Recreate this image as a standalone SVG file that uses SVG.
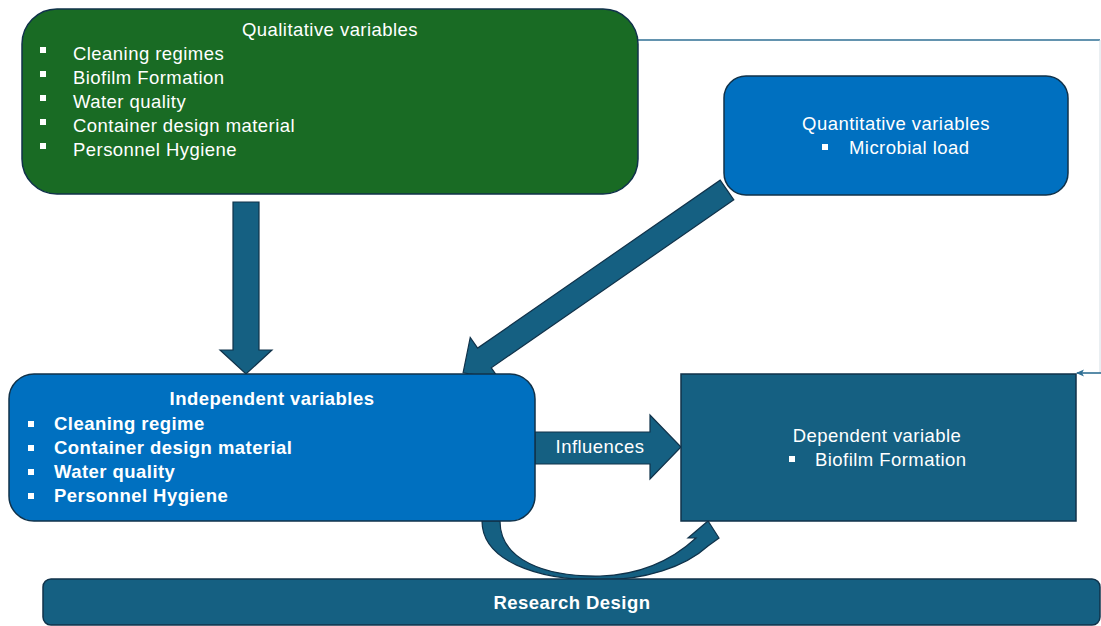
<svg xmlns="http://www.w3.org/2000/svg" width="1101" height="626" viewBox="0 0 1101 626">
<defs>
<style>
.box{stroke:#10324a;stroke-width:1.5}
.green{fill:#196b24}
.blue{fill:#0070c0}
.teal{fill:#156082}
.arrow{fill:#156082;stroke:#10324a;stroke-width:1.2;stroke-linejoin:miter}
text{font-family:"Liberation Sans",Arial,sans-serif;fill:#ffffff;font-size:18.5px;letter-spacing:0.45px}
.b{font-weight:bold}
.mid{text-anchor:middle}
.bul{fill:#ffffff}
</style>
<marker id="ah" markerWidth="8" markerHeight="8" refX="7" refY="4" orient="auto" markerUnits="userSpaceOnUse">
<path d="M8,4 L0,0.5 L2,4 L0,7.5 Z" fill="#2f6f94"/>
</marker>
</defs>
<rect width="1101" height="626" fill="#ffffff"/>

<g id="connectors">
<polyline points="638,40 1100,40" fill="none" stroke="#2f6f94" stroke-width="1.6"/>
<line x1="1100" y1="40" x2="1100" y2="373" stroke="#d5dee5" stroke-width="1"/>
<line x1="1101" y1="373" x2="1077" y2="373" stroke="#2f6f94" stroke-width="1.6" marker-end="url(#ah)"/>
<path class="arrow" d="M233,202 L259,202 L259,350 L272,350 L246,374 L220,350 L233,350 Z"/>
<path class="arrow" transform="translate(727,190) rotate(145.3)" d="M0,-12 L295,-12 L295,-25 L321,0 L295,25 L295,12 L0,12 Z"/>
<path class="arrow" d="M535,432 L650,432 L650,415 L681,447 L650,479 L650,464 L535,464 Z"/>
<path class="arrow" d="M482,521 C482,560 535,580 600,580 C645,580 685,567 708,546 L719,538 L708,521 L688,538 L696,538 C672,560 640,575 600,576 C545,577 500,560 500,521 Z"/>
</g>

<g id="qualitative">
<rect class="box green" x="22" y="9" width="616" height="185" rx="35"/>
<text class="mid" x="330" y="36">Qualitative variables</text>
<rect class="bul" x="40" y="47" width="6" height="6"/>
<text x="73" y="60">Cleaning regimes</text>
<rect class="bul" x="40" y="71" width="6" height="6"/>
<text x="73" y="84">Biofilm Formation</text>
<rect class="bul" x="40" y="95" width="6" height="6"/>
<text x="73" y="108">Water quality</text>
<rect class="bul" x="40" y="119" width="6" height="6"/>
<text x="73" y="132">Container design material</text>
<rect class="bul" x="40" y="143" width="6" height="6"/>
<text x="73" y="156">Personnel Hygiene</text>
</g>

<g id="quantitative">
<rect class="box blue" x="724" y="76" width="344" height="119" rx="22"/>
<text class="mid" x="896" y="130">Quantitative variables</text>
<rect class="bul" x="822" y="144" width="6" height="6"/>
<text x="849" y="154">Microbial load</text>
</g>

<g id="independent">
<rect class="box blue" x="9" y="374" width="526" height="147" rx="25"/>
<text class="mid b" x="272" y="405">Independent variables</text>
<rect class="bul" x="28" y="421" width="6" height="6"/>
<text class="b" x="54" y="430">Cleaning regime</text>
<rect class="bul" x="28" y="445" width="6" height="6"/>
<text class="b" x="54" y="454">Container design material</text>
<rect class="bul" x="28" y="469" width="6" height="6"/>
<text class="b" x="54" y="478">Water quality</text>
<rect class="bul" x="28" y="493" width="6" height="6"/>
<text class="b" x="54" y="502">Personnel Hygiene</text>
</g>

<g id="influences-label">
<text class="mid" x="600" y="453">Influences</text>
</g>

<g id="dependent">
<rect class="box teal" x="681" y="374" width="395" height="147"/>
<text class="mid" x="877" y="442">Dependent variable</text>
<rect class="bul" x="789" y="456" width="6" height="6"/>
<text x="815" y="466">Biofilm Formation</text>
</g>

<g id="research-design">
<rect class="box teal" x="43" y="579" width="1057" height="46" rx="8"/>
<text class="mid b" x="572" y="609">Research Design</text>
</g>
</svg>
